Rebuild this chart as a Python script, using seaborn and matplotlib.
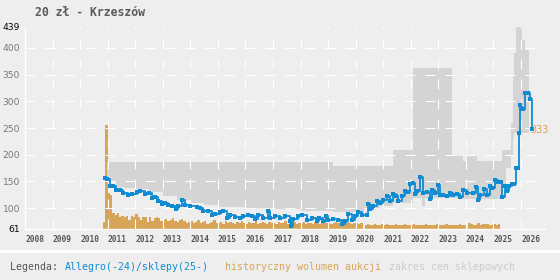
import numpy as np
import pandas as pd
import matplotlib
matplotlib.use("Agg")
import matplotlib.pyplot as plt
import seaborn as sns
from matplotlib.patches import Rectangle

# ---------------- data ----------------
title = "20 zł - Krzeszów"

blue_years = [2010.90, 2010.98, 2011.08, 2011.19, 2011.30, 2011.45, 2011.56, 2011.74, 2011.88, 2012.06,
              2012.17, 2012.35, 2012.50, 2012.61, 2012.72, 2012.83, 2012.97, 2013.08, 2013.19, 2013.33,
              2013.48, 2013.55, 2013.70, 2013.81, 2013.99, 2014.24, 2014.35, 2014.46, 2014.64, 2014.79,
              2014.89, 2015.08, 2015.18, 2015.33, 2015.44, 2015.62, 2015.80, 2015.91, 2016.09, 2016.24,
              2016.35, 2016.45, 2016.64, 2016.82, 2016.89, 2017.07, 2017.25, 2017.43, 2017.62, 2017.65,
              2017.72, 2017.91, 2018.05, 2018.23, 2018.41, 2018.60, 2018.67, 2018.81, 2018.92, 2018.99,
              2019.18, 2019.36, 2019.50, 2019.61, 2019.72, 2019.86, 2019.97, 2020.08, 2020.23, 2020.41,
              2020.45, 2020.52, 2020.63, 2020.77, 2020.88, 2020.99, 2021.13, 2021.24, 2021.35, 2021.46,
              2021.53, 2021.68, 2021.79, 2021.90, 2021.97, 2022.08, 2022.15, 2022.22, 2022.33, 2022.44,
              2022.59, 2022.70, 2022.77, 2022.88, 2022.99, 2023.06, 2023.17, 2023.31, 2023.42, 2023.53,
              2023.68, 2023.78, 2023.89, 2024.04, 2024.26, 2024.36, 2024.44, 2024.51, 2024.65, 2024.76,
              2024.87, 2024.94, 2025.05, 2025.16, 2025.27, 2025.31, 2025.42, 2025.49, 2025.56, 2025.67,
              2025.74, 2025.82, 2025.89, 2025.93, 2025.96, 2026.00, 2026.07, 2026.14, 2026.25, 2026.32,
              2026.40]
blue_values = [156, 155, 142, 142, 134, 134, 129, 125, 127, 131,
               133, 127, 129, 119, 120, 114, 108, 110, 106, 104,
               99, 104, 116, 106, 104, 102, 100, 95, 95, 87,
               89, 93, 95, 82, 87, 84, 82, 86, 87, 86,
               80, 87, 82, 95, 82, 86, 82, 86, 76, 67,
               80, 86, 87, 78, 82, 76, 82, 76, 86, 78,
               80, 78, 70, 76, 89, 78, 86, 93, 87, 87,
               108, 99, 104, 114, 110, 116, 123, 114, 127, 123,
               114, 123, 133, 131, 146, 148, 127, 133, 158, 129,
               131, 117, 134, 129, 144, 125, 125, 123, 129, 125,
               127, 121, 134, 129, 129, 140, 116, 125, 136, 125,
               142, 138, 153, 149, 149, 121, 142, 133, 142, 146,
               146, 176, 176, 240, 293, 287, 285, 315, 315, 304,
               249]
last_label = "333"

shop_years = [2010.97, 2011.30, 2011.60, 2012.00, 2012.50, 2013.00, 2013.50, 2014.00, 2014.50, 2015.00,
              2016.00, 2017.00, 2018.00, 2019.18, 2020.30, 2020.90, 2021.35, 2021.60, 2022.08, 2022.40,
              2022.50, 2023.49, 2023.90, 2024.05, 2024.40, 2025.30, 2025.45, 2025.62, 2025.70, 2025.75,
              2025.80, 2026.05, 2026.15, 2026.30]
shop_high = [187, 187, 187, 187, 187, 187, 187, 187, 187, 187,
             187, 187, 187, 178, 178, 178, 208, 208, 362, 362,
             362, 197, 189, 197, 189, 208, 208, 260, 349, 390,
             445, 415, 396, 396]
shop_low = [150, 140, 138, 135, 130, 122, 115, 110, 105, 102,
            100, 98, 95, 93, 100, 104, 110, 110, 119, 104,
            119, 119, 117, 117, 117, 140, 176, 200, 230, 240,
            240, 240, 240, 240]

vol_start = 2010 + 10 / 12  # Nov 2010, monthly volumes
volumes = [7, 104,
           36, 34, 16, 14, 16, 12, 13, 12, 13, 9, 13, 12,
           15, 12, 9, 12, 12, 7, 12, 8, 11, 12, 11, 8,
           9, 10, 8, 9, 11, 8, 7, 9, 10, 8, 6, 7,
           8, 6, 7, 9, 6, 7, 8, 5, 6, 7, 9, 6,
           6, 7, 5, 8, 6, 7, 6, 5, 7, 6, 8, 6,
           5, 7, 6, 6, 8, 5, 6, 7, 6, 5, 7, 6,
           6, 5, 7, 6, 6, 8, 5, 6, 6, 7, 5, 6,
           6, 7, 5, 6, 6, 5, 7, 6, 5, 6, 7, 6,
           6, 5, 6, 7, 6, 8, 10, 9, 7, 6, 5, 6,
           6, 5, 6, 0, 4, 5, 4, 4, 5, 4, 4, 5,
           4, 5, 4, 4, 4, 5, 4, 4, 4, 5, 4, 4,
           4, 5, 4, 4, 4, 4, 5, 4, 4, 4, 4, 5,
           4, 4, 4, 5, 4, 4, 4, 4, 4, 5, 4, 4,
           0, 6, 5, 4, 4, 6, 4, 5, 5, 5, 4, 4,
           5, 4, 5]

year_ticks = list(range(2008, 2027))
y_ticks = [61, 100, 150, 200, 250, 300, 350, 400, 439]
y_grid = [100, 150, 200, 250, 300, 350, 400]

# ---------------- style ----------------
BG = "#eeeeee"
BLUE = "#0f8bd2"
ORANGE = "#d8a458"
BAND = "#d4d4d4"

sns.set_style("white", {"axes.facecolor": BG, "figure.facecolor": BG})
plt.rcParams["font.family"] = ["DejaVu Sans"]

fig = plt.figure(figsize=(5.6, 2.8), dpi=100)
L, B, W, H = 25 / 560, 1 - 229 / 280, 520 / 560, 202 / 280

# volume bars underneath (own scale)
ax2 = fig.add_axes([L, B, W, H])
vol_df = pd.DataFrame({
    "x": vol_start + np.arange(len(volumes)) / 12 + 1 / 24,
    "w": volumes,
})
edges = list(vol_start + np.arange(len(volumes) + 1) / 12)
sns.histplot(data=vol_df, x="x", weights="w", bins=edges, ax=ax2, color=ORANGE,
             alpha=1, linewidth=0)
ax2.set_xlim(2008, 2026.87)
ax2.set_ylim(0, 202)
ax2.axis("off")

# main axes on top
ax = fig.add_axes([L, B, W, H])
ax.patch.set_visible(False)
ax.fill_between(shop_years, shop_low, shop_high, step="post", color=BAND, lw=0, zorder=1)

for yv in y_grid:
    ax.axhline(yv, color="white", lw=0.8, ls=(0, (9, 9)), zorder=1.5)
for xv in year_ticks[1:]:
    ax.axvline(xv, color="white", lw=0.8, ls=(0, (9, 9)), zorder=1.5)

sns.lineplot(x=blue_years, y=blue_values, ax=ax, color=BLUE, lw=1.3,
             drawstyle="steps-post", marker="s", markersize=2.6,
             markeredgewidth=0, zorder=3)
ax.annotate(last_label, (blue_years[-1], blue_values[-1]), xytext=(-1, -1),
            textcoords="offset points", ha="left", va="center",
            color="#e0a040", fontsize=7, zorder=4)

ax.set_xlim(2008, 2026.87)
ax.set_ylim(61, 439)
for s in ["top", "right"]:
    ax.spines[s].set_visible(False)
for s in ["left", "bottom"]:
    ax.spines[s].set_color("white")
    ax.spines[s].set_linewidth(1)

ax.set_xticks(year_ticks)
ax.set_xticklabels([str(y) for y in year_ticks], family="DejaVu Sans Mono",
                   fontweight="bold", fontsize=5.7, color="#555555")
for lab in ax.get_xticklabels():
    lab.set_ha("left")
ax.set_yticks(y_ticks)
ax.set_yticklabels([str(v) for v in y_ticks], fontsize=6.6)
for lab, v in zip(ax.get_yticklabels(), y_ticks):
    lab.set_color("black" if v in (61, 439) else "#777777")
ax.tick_params(axis="x", length=0, pad=4)
ax.tick_params(axis="y", length=0, pad=3.5)
ax.set_xlabel("")
ax.set_ylabel("")

# title
fig.text(35 / 560, 1 - 13 / 280, title, family="DejaVu Sans Mono", fontweight="bold",
         fontsize=8.3, color="#5a5a5a", va="center", ha="left")

# separator stripe
fig.add_artist(Rectangle((0, 1 - 253 / 280), 1, 3 / 280, transform=fig.transFigure,
                         color="white", lw=0))

# legend texts
leg_y = 1 - 267 / 280
fig.text(10 / 560, leg_y, "Legenda:", family="DejaVu Sans Mono", fontsize=7.1,
         color="#555555", va="center")
fig.text(65 / 560, leg_y, "Allegro(-24)/sklepy(25-)", family="DejaVu Sans Mono",
         fontsize=7.1, color=BLUE, va="center")
fig.text(225 / 560, leg_y, "historyczny wolumen aukcji", family="DejaVu Sans Mono",
         fontsize=7.1, color=ORANGE, va="center")
fig.text(389 / 560, leg_y, "zakres cen sklepowych", family="DejaVu Sans Mono",
         fontsize=7.1, color="#cccccc", va="center")

fig.savefig("out.png", dpi=100, facecolor=BG)
